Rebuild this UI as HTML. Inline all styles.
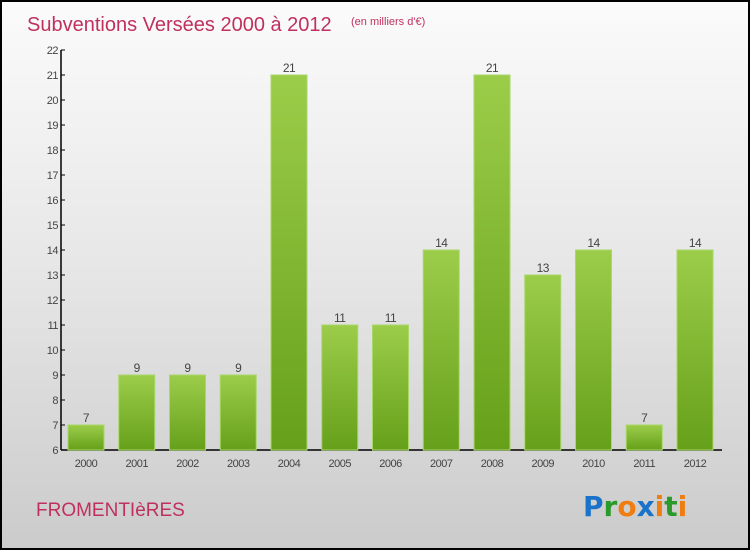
<!DOCTYPE html>
<html><head><meta charset="utf-8"><style>
html,body{margin:0;padding:0;}
body{width:750px;height:550px;overflow:hidden;font-family:"Liberation Sans",sans-serif;}
#wrap{position:relative;width:746px;height:546px;border:2px solid #000;background:linear-gradient(#fbfbfb,#e6e6e6 50%,#cbcbcb);}
</style></head><body>
<div id="wrap">
<svg id="chart" width="746" height="546" style="position:absolute;left:0;top:0">
<defs>
<linearGradient id="g" x1="0" y1="0" x2="0" y2="1"><stop offset="0" stop-color="#9ccd4a"/><stop offset="1" stop-color="#66a01a"/></linearGradient>
</defs>
<text x="25" y="29" font-size="20" fill="#c0305e">Subventions Versées 2000 à 2012</text>
<text x="349" y="23" font-size="11" fill="#c0305e">(en milliers d'€)</text>
<text x="34" y="514" font-size="19" fill="#c0305e">FROMENTIèRES</text>
<g font-size="28" font-weight="bold" font-family="'DejaVu Sans',sans-serif">
<text x="581" y="514"><tspan fill="#1a73c9">P</tspan><tspan fill="#2a9a2a">r</tspan><tspan fill="#f07d10">o</tspan><tspan fill="#1a73c9">x</tspan><tspan fill="#f07d10">i</tspan><tspan fill="#2a9a2a">t</tspan><tspan fill="#f07d10">i</tspan></text>
</g>
<g id="axes"></g>
<g id="bars"></g>
</svg>
</div>
<script>
const categories=["2000","2001","2002","2003","2004","2005","2006","2007","2008","2009","2010","2011","2012"];
const values=[7,9,9,9,21,11,11,14,21,13,14,7,14];
const yTicks=[6,7,8,9,10,11,12,13,14,15,16,17,18,19,20,21,22];
const NS="http://www.w3.org/2000/svg";
const yMin=6,yMax=22,plotTop=48,plotBottom=448,plotLeft=59,plotRight=720;
function y(v){return plotBottom-(v-yMin)/(yMax-yMin)*(plotBottom-plotTop);}
function xc(i){return 84+i*50.75;}
function mk(t,a,p){const e=document.createElementNS(NS,t);for(const k in a)e.setAttribute(k,a[k]);p.appendChild(e);return e;}
const ax=document.getElementById('axes'),bs=document.getElementById('bars');
const yl=mk('line',{x1:plotLeft,y1:plotTop,x2:plotLeft,y2:plotBottom,stroke:'#000','stroke-width':1.5},ax);


const xl=mk('line',{x1:plotLeft,y1:plotBottom,x2:plotRight,y2:plotBottom,stroke:'#000','stroke-width':1.5},ax);


yTicks.forEach(t=>{
 mk('line',{x1:plotLeft,y1:y(t),x2:plotLeft+4,y2:y(t),stroke:'#000'},ax);
 const tx=mk('text',{x:plotLeft-3,y:y(t)+4,'font-size':11,fill:'#444','text-anchor':'end','letter-spacing':'-0.5'},ax);
 tx.textContent=t;
 
 
});
categories.forEach((c,i)=>{
 const v=values[i],cx=xc(i),w=36;
 const r=mk('rect',{x:cx-w/2,y:y(v),width:w,height:plotBottom-y(v),fill:'url(#g)',stroke:'#a8d868','stroke-width':1},bs);
 
 
 const lb=mk('text',{x:cx,y:y(v)-3,'font-size':12,fill:'#444','text-anchor':'middle','letter-spacing':'-0.5'},bs);
 lb.textContent=v;
 
 
 const xt=mk('text',{x:cx,y:plotBottom+17,'font-size':11,fill:'#444','text-anchor':'middle','letter-spacing':'-0.5'},ax);
 xt.textContent=c;
 
 
});
</script>
</body></html>
